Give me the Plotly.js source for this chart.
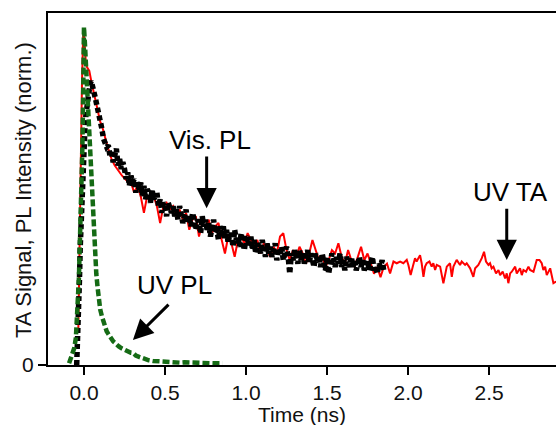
<!DOCTYPE html>
<html>
<head>
<meta charset="utf-8">
<script src="https://cdn.plot.ly/plotly-3.0.1.min.js"></script>
<style>html,body{margin:0;padding:0;background:#fff;}#chart{width:556px;height:425px;}</style>
</head>
<body>
<div id="chart"></div>
<script>
// UV TA (red)
var uvTaTime = [-0.035,-0.032,-0.029,-0.024,-0.019,-0.012,-0.006,-0.002,0.004,0.012,0.020,0.033,0.045,0.058,0.070,0.080,0.090,0.100,0.110,0.120,0.135,0.150,0.170,0.190,0.210,0.235,0.255,0.275,
0.29,0.31,0.33,0.35,0.37,0.39,0.41,0.43,0.45,0.47,0.49,0.51,0.53,0.55,0.57,0.59,0.61,0.63,0.65,0.67,0.69,0.71,0.73,0.75,0.77,0.79,0.81,0.83,0.85,0.87,0.89,0.91,0.93,0.95,0.97,0.99,
1.01,1.03,1.05,1.07,1.09,1.11,1.13,1.15,1.17,1.19,1.21,1.23,1.25,1.27,1.29,1.31,1.33,1.35,1.37,1.39,1.41,1.43,1.45,1.47,1.49,1.51,1.53,1.55,1.57,1.59,1.61,1.63,1.65,1.67,1.69,1.71,1.73,1.75,1.77,1.79,1.81,1.83,1.85,1.87,
1.889,1.910,1.930,1.951,1.971,1.992,2.002,2.016,2.029,2.043,2.053,2.074,2.084,2.095,2.105,2.115,2.132,2.146,2.156,2.167,2.177,2.198,2.218,2.228,2.239,2.259,2.270,2.280,2.300,2.321,2.331,2.352,2.362,2.383,2.403,2.414,2.434,2.455,2.469,2.481,2.496,2.506,2.516,2.527,2.543,2.558,2.568,2.584,2.599,2.609,2.619,2.630,2.640,2.661,2.671,2.691,2.702,2.712,2.728,2.743,2.753,2.774,2.794,2.811,2.825,2.835,2.846,2.856,2.877,2.897,2.914];
var uvTaSignal = [0.098,0.20,0.35,0.50,0.64,0.84,0.96,0.99,0.95,0.89,0.88,0.87,0.84,0.81,0.79,0.765,0.74,0.72,0.71,0.69,0.665,0.64,0.61,0.59,0.575,0.56,0.55,0.54,
0.54,0.51,0.53,0.50,0.45,0.50,0.49,0.50,0.47,0.42,0.47,0.48,0.46,0.47,0.44,0.46,0.43,0.45,0.40,0.43,0.44,0.38,0.42,0.41,0.43,0.39,0.41,0.42,0.37,0.33,0.38,0.36,0.32,0.37,0.38,0.36,
0.39,0.37,0.35,0.37,0.33,0.36,0.34,0.32,0.35,0.33,0.38,0.39,0.34,0.31,0.34,0.32,0.35,0.33,0.30,0.33,0.37,0.34,0.31,0.32,0.29,0.31,0.34,0.33,0.36,0.32,0.30,0.34,0.31,0.29,0.32,0.35,0.31,0.33,0.30,0.27,0.29,0.26,0.29,0.30,
0.271,0.306,0.301,0.306,0.301,0.311,0.296,0.266,0.291,0.316,0.306,0.325,0.301,0.261,0.291,0.301,0.306,0.291,0.301,0.281,0.296,0.291,0.242,0.271,0.291,0.301,0.261,0.291,0.311,0.296,0.306,0.296,0.301,0.286,0.261,0.286,0.296,0.316,0.335,0.306,0.296,0.301,0.286,0.291,0.271,0.281,0.266,0.276,0.256,0.271,0.242,0.271,0.276,0.291,0.271,0.286,0.266,0.281,0.276,0.291,0.281,0.276,0.311,0.311,0.301,0.281,0.291,0.266,0.286,0.242,0.247];

// Vis. PL (black)
var visPlTime = [-0.045,-0.040,-0.033,-0.028,-0.023,-0.017,-0.012,-0.006,0.000,0.006,0.012,0.020,0.029,0.037,0.045,0.052,0.060,0.070,0.080,0.090,0.100,0.110,0.120,0.130,0.140,
0.15,0.16,0.17,0.18,0.19,0.20,0.21,0.22,0.23,0.24,
0.25,0.26,0.27,0.28,0.29,0.30,0.31,0.32,0.33,0.34,
0.35,0.36,0.37,0.38,0.39,0.40,0.41,0.42,0.43,0.44,
0.45,0.46,0.47,0.48,0.49,0.50,0.51,0.52,0.53,0.54,
0.55,0.56,0.57,0.58,0.59,0.60,0.61,0.62,0.63,0.64,
0.65,0.66,0.67,0.68,0.69,0.70,0.71,0.72,0.73,0.74,
0.75,0.76,0.77,0.78,0.79,0.80,0.81,0.82,0.83,0.84,
0.85,0.86,0.87,0.88,0.89,0.90,0.91,0.92,0.93,0.94,
0.95,0.96,0.97,0.98,0.99,1.00,1.01,1.02,1.03,1.04,
1.05,1.06,1.07,1.08,1.09,1.10,1.11,1.12,1.13,1.14,
1.15,1.16,1.17,1.18,1.19,1.20,1.21,1.22,1.23,1.24,
1.25,1.26,1.27,1.28,1.29,1.30,1.31,1.32,1.33,1.34,
1.35,1.36,1.37,1.38,1.39,1.40,1.41,1.42,1.43,1.44,
1.45,1.46,1.47,1.48,1.49,1.50,1.51,1.52,1.53,1.54,
1.55,1.56,1.57,1.58,1.59,1.60,1.61,1.62,1.63,1.64,
1.65,1.66,1.67,1.68,1.69,1.70,1.71,1.72,1.73,1.74,
1.75,1.76,1.77,1.78,1.79,1.80,1.81,1.82,1.83,1.84,1.85];
var visPlSignal = [0.00,0.05,0.15,0.25,0.35,0.45,0.54,0.60,0.65,0.70,0.74,0.78,0.81,0.83,0.84,0.83,0.81,0.79,0.77,0.745,0.72,0.70,0.67,0.66,0.645,
0.65,0.62,0.63,0.60,0.62,0.64,0.59,0.61,0.58,0.60,
0.58,0.55,0.57,0.53,0.56,0.54,0.55,0.51,0.54,0.52,
0.54,0.50,0.53,0.49,0.52,0.51,0.48,0.52,0.49,0.50,
0.51,0.47,0.49,0.45,0.48,0.47,0.44,0.48,0.46,0.45,
0.47,0.44,0.46,0.43,0.47,0.45,0.42,0.44,0.46,0.42,
0.44,0.41,0.45,0.43,0.40,0.43,0.42,0.39,0.44,0.41,
0.43,0.40,0.42,0.38,0.41,0.43,0.39,0.40,0.37,0.41,
0.39,0.41,0.37,0.40,0.36,0.39,0.38,0.35,0.40,0.37,
0.38,0.35,0.39,0.36,0.34,0.38,0.37,0.35,0.38,0.34,
0.37,0.33,0.36,0.35,0.33,0.37,0.34,0.32,0.36,0.33,
0.35,0.32,0.34,0.36,0.31,0.34,0.33,0.35,0.31,0.34,
0.35,0.32,0.27,0.33,0.31,0.34,0.32,0.30,0.34,0.31,
0.33,0.30,0.32,0.34,0.30,0.33,0.31,0.29,0.33,0.31,
0.32,0.29,0.33,0.31,0.28,0.32,0.27,0.30,0.33,0.31,
0.29,0.32,0.30,0.33,0.29,0.31,0.28,0.32,0.30,0.29,
0.32,0.29,0.31,0.28,0.30,0.32,0.29,0.31,0.28,0.30,
0.31,0.28,0.30,0.32,0.28,0.29,0.27,0.30,0.29,0.31,0.28];

// UV PL (green)
var uvPlTime = [-0.092,-0.075,-0.060,-0.050,-0.042,-0.036,-0.031,-0.026,-0.020,-0.015,-0.010,-0.006,-0.003,0.000,0.006,0.013,0.020,0.028,0.036,0.044,0.052,0.060,0.068,0.076,0.084,0.092,0.100,0.110,0.120,0.130,0.140,0.150,0.160,0.170,0.180,0.190,0.200,0.215,0.230,0.245,0.260,0.275,0.290,0.305,0.320,0.340,0.360,0.380,0.400,0.425,0.450,0.475,0.500,0.530,0.560,0.590,0.620,0.650,0.680,0.710,0.740,0.770,0.800,0.830,0.855];
var uvPlSignal = [0.005,0.025,0.05,0.08,0.14,0.20,0.26,0.35,0.44,0.54,0.64,0.76,0.88,1.00,0.95,0.88,0.80,0.72,0.62,0.53,0.45,0.38,0.32,0.27,0.23,0.19,0.165,0.145,0.13,0.11,0.10,0.092,0.083,0.078,0.07,0.066,0.06,0.055,0.05,0.046,0.042,0.04,0.036,0.035,0.028,0.024,0.02,0.017,0.014,0.012,0.011,0.01,0.009,0.008,0.009,0.007,0.008,0.007,0.006,0.007,0.006,0.006,0.005,0.005,0.005];

var xTickVals = [0, 0.5, 1.0, 1.5, 2.0, 2.5];
var xTickText = ['0.0', '0.5', '1.0', '1.5', '2.0', '2.5'];
var yTickVals = [0];
var yTickText = ['0'];

var FONT = 'Liberation Sans, Arial, Helvetica, sans-serif';

var traces = [
  {x: uvTaTime, y: uvTaSignal, type: 'scatter', mode: 'lines', line: {color: '#ff0000', width: 2}, hoverinfo: 'skip'},
  {x: visPlTime, y: visPlSignal, type: 'scatter', mode: 'lines', line: {color: '#000000', width: 5.5, dash: '5px,3px'}, hoverinfo: 'skip'},
  {x: uvPlTime, y: uvPlSignal, type: 'scatter', mode: 'lines', line: {color: '#156b15', width: 4.5, dash: '7px,3px'}, hoverinfo: 'skip'}
];

function arrow(xt, yt, xa, ya) {
  return {x: xt, y: yt, ax: xa, ay: ya, xref: 'x', yref: 'y', axref: 'x', ayref: 'y', text: '', showarrow: true,
    arrowhead: 2, arrowsize: 1.35, arrowwidth: 3, arrowcolor: '#000', standoff: 0};
}
function label(txt, xv, yv) {
  return {x: xv, y: yv, xref: 'x', yref: 'y', text: txt, showarrow: false, xanchor: 'center', yanchor: 'middle',
    font: {family: FONT, size: 26, color: '#000'}};
}

var layout = {
  width: 556, height: 425,
  margin: {l: 48, r: 0, t: 13, b: 60},
  paper_bgcolor: '#fff', plot_bgcolor: '#fff',
  showlegend: false,
  font: {family: FONT, color: '#000'},
  xaxis: {
    range: [-0.222, 2.913], tickvals: xTickVals, ticktext: xTickText,
    ticks: 'outside', ticklen: 8, tickwidth: 2, tickcolor: '#000',
    showline: true, linecolor: '#000', linewidth: 2, mirror: true,
    showgrid: false, zeroline: false,
    tickfont: {family: FONT, size: 21, color: '#111'}
  },
  yaxis: {
    range: [0, 1.0414], tickvals: yTickVals, ticktext: yTickText,
    ticks: 'outside', ticklen: 8, tickwidth: 2, tickcolor: '#000',
    showline: true, linecolor: '#000', linewidth: 2, mirror: false,
    showgrid: false, zeroline: false,
    tickfont: {family: FONT, size: 21, color: '#111'}
  },
  annotations: [
    {text: 'Time (ns)', xref: 'paper', yref: 'paper', x: 0.5, y: -0.141,
     showarrow: false, xanchor: 'center', yanchor: 'middle',
     font: {family: FONT, size: 21, color: '#111'}},
    {text: 'TA Signal, PL Intensity (norm.)', xref: 'paper', yref: 'paper', x: -0.0492, y: 0.497,
     textangle: -90, showarrow: false, xanchor: 'center', yanchor: 'middle',
     font: {family: FONT, size: 22, color: '#111'}},
    label('Vis. PL', 0.778, 0.666),
    arrow(0.757, 0.464, 0.757, 0.621),
    label('UV TA', 2.63, 0.512),
    arrow(2.609, 0.311, 2.609, 0.467),
    label('UV PL', 0.556, 0.237),
    arrow(0.302, 0.074, 0.531, 0.183)
  ]
};

Plotly.newPlot('chart', traces, layout, {displayModeBar: false, staticPlot: true});
</script>
</body>
</html>
